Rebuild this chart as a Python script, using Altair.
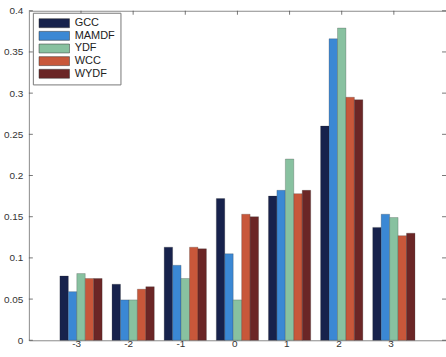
import altair as alt
import pandas as pd

# Grouped bar chart: five methods compared across seven categories
categories = [-3, -2, -1, 0, 1, 2, 3]
methods = ["GCC", "MAMDF", "YDF", "WCC", "WYDF"]
colors = ["#17224c", "#3b88d4", "#88c1a0", "#c8573a", "#6b2626"]

gcc = [0.078, 0.068, 0.113, 0.172, 0.175, 0.260, 0.137]
mamdf = [0.059, 0.049, 0.091, 0.105, 0.182, 0.366, 0.153]
ydf = [0.081, 0.049, 0.075, 0.049, 0.220, 0.379, 0.149]
wcc = [0.075, 0.062, 0.113, 0.153, 0.178, 0.295, 0.127]
wydf = [0.075, 0.065, 0.111, 0.150, 0.182, 0.292, 0.130]

y_ticks = [0, 0.05, 0.1, 0.15, 0.2, 0.25, 0.3, 0.35, 0.4]

series = dict(zip(methods, [gcc, mamdf, ydf, wcc, wydf]))
rows = []
for m in methods:
    for c, v in zip(categories, series[m]):
        rows.append({"cat": c, "method": m, "value": v})
df = pd.DataFrame(rows)
cat_df = pd.DataFrame({"cat": categories})
ytick_df = pd.DataFrame({"v": y_ticks})

W, H = 419, 331
FONT = "Liberation Sans"

# x range spans one full step beyond the first and last group (like xlim [-4, 4])
x_scale = alt.Scale(domain=categories, paddingInner=0.19, paddingOuter=0.595, align=0.5)
y_scale = alt.Scale(domain=[0, 0.4], nice=False, zero=True)

bars = alt.Chart(df).mark_bar(stroke="#2a2a2a", strokeWidth=0.4, strokeOpacity=0.6).encode(
    x=alt.X("cat:O", scale=x_scale, sort=categories,
            axis=alt.Axis(title=None, labelAngle=0, ticks=False, domain=False,
                          labelFont=FONT, labelFontSize=10, labelColor="#333",
                          labelPadding=3)),
    xOffset=alt.XOffset("method:N", sort=methods,
                        scale=alt.Scale(paddingInner=0, paddingOuter=0)),
    y=alt.Y("value:Q", scale=y_scale,
            axis=alt.Axis(title=None, values=y_ticks, format=".2~f", ticks=False,
                          domain=False, grid=False, labelFont=FONT, labelFontSize=10,
                          labelColor="#333", labelPadding=6)),
    color=alt.Color("method:N", sort=methods,
                    scale=alt.Scale(domain=methods, range=colors),
                    legend=alt.Legend(
                        title=None, orient="none", legendX=4, legendY=2,
                        symbolType="M-3.4,-1H3.4V1H-3.4Z", symbolSize=81,
                        symbolOffset=11,
                        symbolStrokeColor="#333", symbolStrokeWidth=0.5,
                        labelFont=FONT, labelFontSize=11, labelColor="#222",
                        rowPadding=0.7, padding=5, fillColor="white",
                        strokeColor="#777", labelOffset=15)),
)

# Inward tick marks on all four sides of the frame
left_ticks = alt.Chart(ytick_df).mark_rule(color="#555", strokeWidth=0.8).encode(
    y=alt.Y("v:Q", scale=y_scale), x=alt.value(0), x2=alt.value(4))
right_ticks = alt.Chart(ytick_df).mark_rule(color="#555", strokeWidth=0.8).encode(
    y=alt.Y("v:Q", scale=y_scale), x=alt.value(W - 4), x2=alt.value(W))
top_ticks = alt.Chart(cat_df).mark_rule(color="#555", strokeWidth=0.8).encode(
    x=alt.X("cat:O", scale=x_scale, sort=categories, bandPosition=0.5),
    y=alt.value(0), y2=alt.value(4))
bottom_ticks = alt.Chart(cat_df).mark_rule(color="#555", strokeWidth=0.8).encode(
    x=alt.X("cat:O", scale=x_scale, sort=categories, bandPosition=0.5),
    y=alt.value(H - 4), y2=alt.value(H))

chart = alt.layer(left_ticks, right_ticks, top_ticks, bottom_ticks, bars).properties(
    width=W, height=H,
    autosize=alt.AutoSizeParams(type="none"),
    padding={"left": 29, "top": 10, "right": 0, "bottom": 16},
    background="white",
).configure_view(stroke="#8a8a8a", strokeWidth=1)

chart.save("out.html", embed_options={"renderer": "svg", "actions": False})
